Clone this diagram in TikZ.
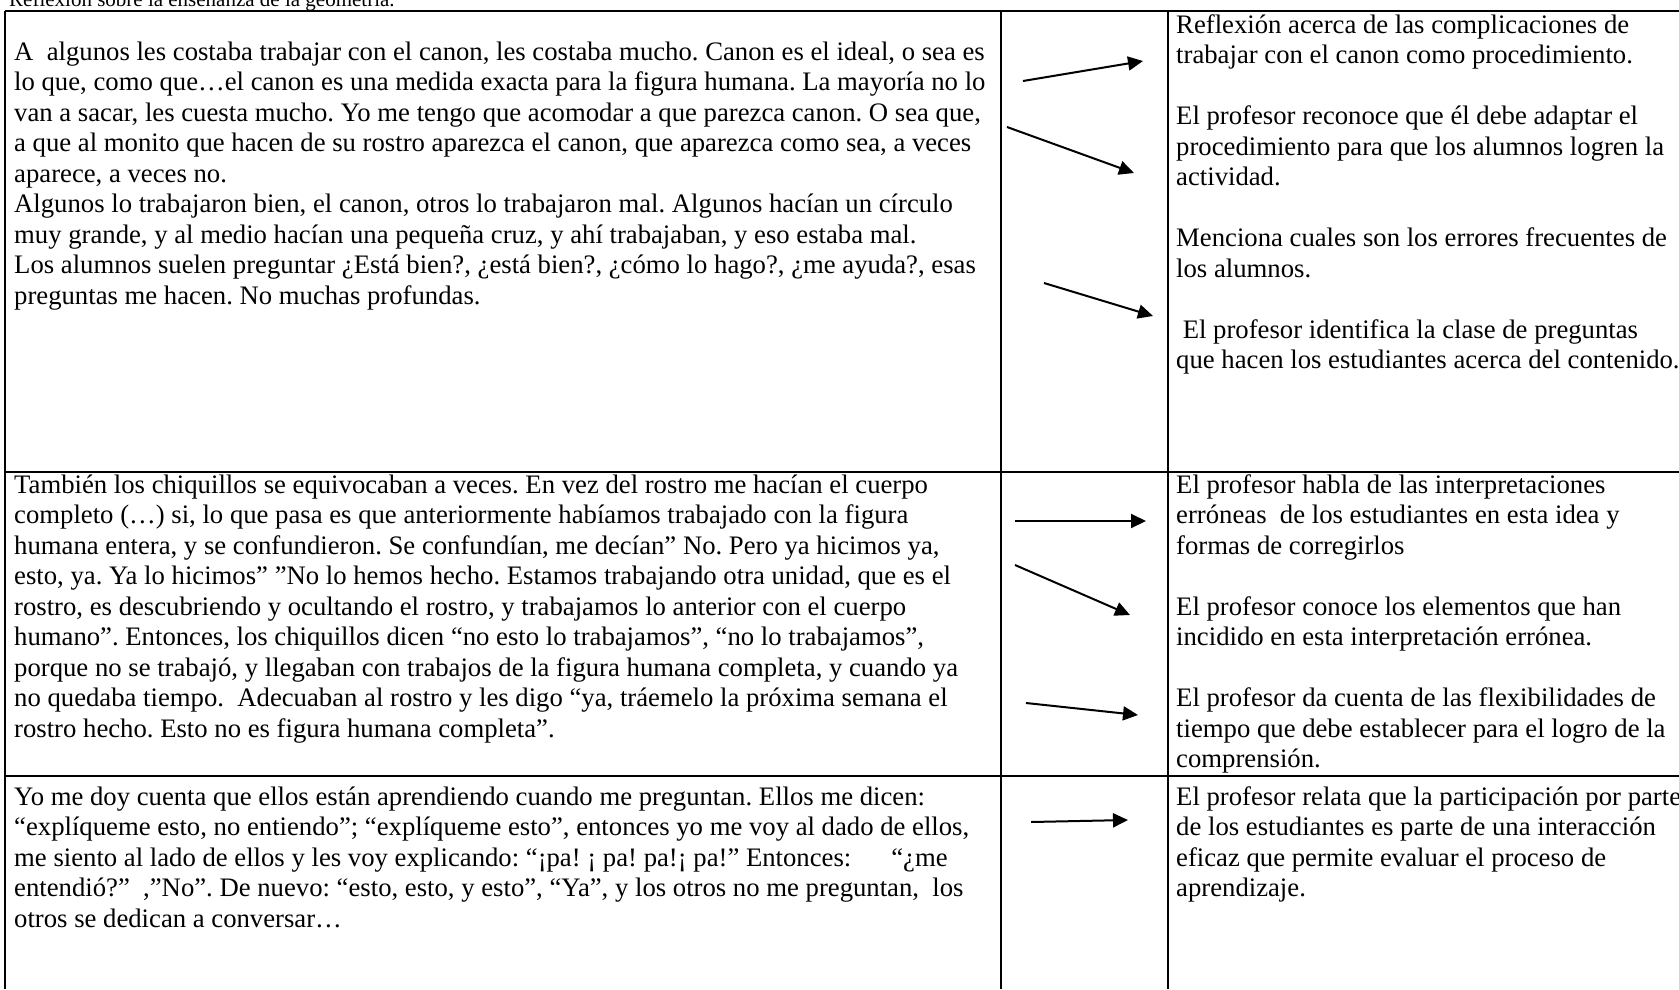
\documentclass[tikz,border=0pt]{standalone}
\usepackage{fontspec}
\setmainfont{Liberation Serif}
\usetikzlibrary{arrows.meta}
\begin{document}
\frenchspacing
\begin{tikzpicture}[x=1pt,y=-1pt,
  body/.style={anchor=base west, inner sep=0pt, font=\fontsize{26.7}{30.5}\selectfont},
  titletext/.style={anchor=base west, inner sep=0pt, font=\fontsize{21}{24}\selectfont},
  rule/.style={line width=2.2pt},
  pointer/.style={line width=2pt, -{Triangle[length=15pt,width=14pt]}}]
\useasboundingbox (0,0) rectangle (1679,989);

% table rules
\draw[rule] (5,11) -- (1679,11);
\draw[rule] (5,472) -- (1679,472);
\draw[rule] (5,776) -- (1679,776);
\draw[rule] (5,11) -- (5,989);
\draw[rule] (1001,11) -- (1001,989);
\draw[rule] (1168,11) -- (1168,989);

% title (cut by the top edge)
\node[titletext] (title) at (9,6.5) {Reflexión sobre la enseñanza de la geometría.};

% row 1
\node[body] (l1) at (14,60) {\parbox[t]{1000pt}{\raggedright
A\ \ algunos les costaba trabajar con el canon, les costaba mucho. Canon es el ideal, o sea es\\
lo que, como que…el canon es una medida exacta para la figura humana. La mayoría no lo\\
van a sacar, les cuesta mucho. Yo me tengo que acomodar a que parezca canon. O sea que,\\
a que al monito que hacen de su rostro aparezca el canon, que aparezca como sea, a veces\\
aparece, a veces no.\\
Algunos lo trabajaron bien, el canon, otros lo trabajaron mal. Algunos hacían un círculo\\
muy grande, y al medio hacían una pequeña cruz, y ahí trabajaban, y eso estaba mal.\\
Los alumnos suelen preguntar ¿Está bien?, ¿está bien?, ¿cómo lo hago?, ¿me ayuda?, esas\\
preguntas me hacen. No muchas profundas.}};

\node[body] (r1) at (1176,33) {\parbox[t]{620pt}{\raggedright
Reflexión acerca de las complicaciones de\\
trabajar con el canon como procedimiento.\\[30.5pt]
El profesor reconoce que él debe adaptar el\\
procedimiento para que los alumnos logren la\\
actividad.\\[30.5pt]
Menciona cuales son los errores frecuentes de\\
los alumnos.\\[30.5pt]
\hspace*{6.6pt}El profesor identifica la clase de preguntas\\
que hacen los estudiantes acerca del contenido.}};

% row 2
\node[body] (l2) at (14,493) {\parbox[t]{1000pt}{\raggedright
También los chiquillos se equivocaban a veces. En vez del rostro me hacían el cuerpo\\
completo (…) si, lo que pasa es que anteriormente habíamos trabajado con la figura\\
humana entera, y se confundieron. Se confundían, me decían” No. Pero ya hicimos ya,\\
esto, ya. Ya lo hicimos” ”No lo hemos hecho. Estamos trabajando otra unidad, que es el\\
rostro, es descubriendo y ocultando el rostro, y trabajamos lo anterior con el cuerpo\\
humano”. Entonces, los chiquillos dicen “no esto lo trabajamos”, “no lo trabajamos”,\\
porque no se trabajó, y llegaban con trabajos de la figura humana completa, y cuando ya\\
no quedaba tiempo.\ \ Adecuaban al rostro y les digo “ya, tráemelo la próxima semana el\\
rostro hecho. Esto no es figura humana completa”.}};

\node[body] (r2) at (1176,493) {\parbox[t]{620pt}{\raggedright
El profesor habla de las interpretaciones\\
erróneas\ \ de los estudiantes en esta idea y\\
formas de corregirlos\\[30.5pt]
El profesor conoce los elementos que han\\
incidido en esta interpretación errónea.\\[30.5pt]
El profesor da cuenta de las flexibilidades de\\
tiempo que debe establecer para el logro de la\\
comprensión.}};

% row 3
\node[body] (l3) at (14,805) {\parbox[t]{1000pt}{\raggedright
Yo me doy cuenta que ellos están aprendiendo cuando me preguntan. Ellos me dicen:\\
“explíqueme esto, no entiendo”; “explíqueme esto”, entonces yo me voy al dado de ellos,\\
me siento al lado de ellos y les voy explicando: “¡pa! ¡ pa! pa!¡ pa!” Entonces:\hspace*{40pt}“¿me\\
entendió?”\ \ ,"No”. De nuevo: “esto, esto, y esto”, “Ya”, y los otros no me preguntan,\ \ los\\
otros se dedican a conversar…}};

\node[body] (r3) at (1176,805) {\parbox[t]{620pt}{\raggedright
El profesor relata que la participación por parte\\
de los estudiantes es parte de una interacción\\
eficaz que permite evaluar el proceso de\\
aprendizaje.}};

% arrows
\coordinate (a1s) at (1023,81);  \coordinate (a1e) at (1143,61);
\coordinate (a2s) at (1007,127); \coordinate (a2e) at (1134,173);
\coordinate (a3s) at (1044,283); \coordinate (a3e) at (1153,316);
\coordinate (a4s) at (1015,521); \coordinate (a4e) at (1146,521);
\coordinate (a5s) at (1015,565); \coordinate (a5e) at (1130,615);
\coordinate (a6s) at (1026,703); \coordinate (a6e) at (1138,715);
\coordinate (a7s) at (1031,822); \coordinate (a7e) at (1128,820);
\draw[pointer] (a1s) -- (a1e);
\draw[pointer] (a2s) -- (a2e);
\draw[pointer] (a3s) -- (a3e);
\draw[pointer] (a4s) -- (a4e);
\draw[pointer] (a5s) -- (a5e);
\draw[pointer] (a6s) -- (a6e);
\draw[pointer] (a7s) -- (a7e);
\end{tikzpicture}
\end{document}
